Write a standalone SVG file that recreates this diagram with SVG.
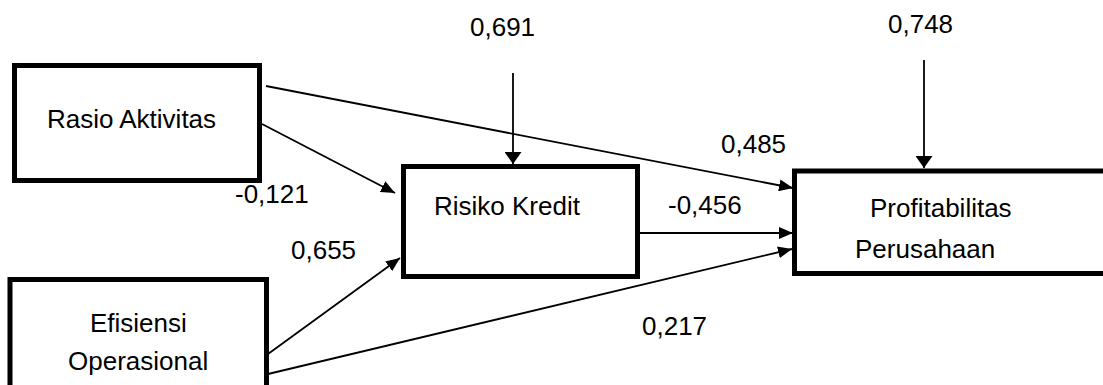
<svg xmlns="http://www.w3.org/2000/svg" width="1103" height="385" viewBox="0 0 1103 385">
<style>
.box{fill:#fff;stroke:#000;stroke-width:5}
.t{font-family:"Liberation Sans",Arial,sans-serif;font-size:26px;fill:#000}
.c{stroke:#000;stroke-width:1.8;fill:none}
.d{marker-end:url(#ah)}
.v{marker-end:url(#av)}
</style>
<defs>
<marker id="ah" markerUnits="userSpaceOnUse" markerWidth="15" markerHeight="12" refX="14" refY="6" orient="auto">
<path d="M0,0 L14,6 L0,12 z" fill="#000"/>
</marker>
<marker id="av" markerUnits="userSpaceOnUse" markerWidth="13" markerHeight="17" refX="12" refY="8.5" orient="auto">
<path d="M0,0 L12,8.5 L0,17 z" fill="#000"/>
</marker>
</defs>
<rect width="1103" height="385" fill="#fff"/>
<g id="connectors">
<line class="c d" x1="266" y1="86" x2="793" y2="188"/>
<line class="c d" x1="262" y1="124" x2="395" y2="193"/>
<line class="c d" x1="268" y1="354" x2="400" y2="258"/>
<line class="c d" x1="268" y1="374" x2="792" y2="249"/>
<line class="c d" x1="637" y1="233" x2="793" y2="233"/>
<line class="c v" x1="513" y1="73" x2="513" y2="164"/>
<line class="c v" x1="924" y1="60" x2="924" y2="168"/>
</g>
<g id="node-rasio">
<rect class="box" x="14.5" y="65.5" width="245" height="115"/>
<text class="t" x="47" y="128">Rasio Aktivitas</text>
</g>
<g id="node-risiko">
<rect class="box" x="403.5" y="166.5" width="234" height="110"/>
<text class="t" x="434" y="215">Risiko Kredit</text>
</g>
<g id="node-profit">
<rect class="box" x="794.5" y="171" width="330" height="102.5"/>
<text class="t" x="870" y="217">Profitabilitas</text>
<text class="t" x="855" y="258">Perusahaan</text>
</g>
<g id="node-efisiensi">
<rect class="box" x="10" y="279.5" width="256.5" height="130"/>
<text class="t" x="90" y="332">Efisiensi</text>
<text class="t" x="68" y="370">Operasional</text>
</g>
<g id="labels">
<text class="t" x="470" y="36">0,691</text>
<text class="t" x="888" y="33">0,748</text>
<text class="t" x="721" y="153">0,485</text>
<text class="t" x="235" y="203">-0,121</text>
<text class="t" x="668" y="214">-0,456</text>
<text class="t" x="291" y="259">0,655</text>
<text class="t" x="642" y="335">0,217</text>
</g>
</svg>
